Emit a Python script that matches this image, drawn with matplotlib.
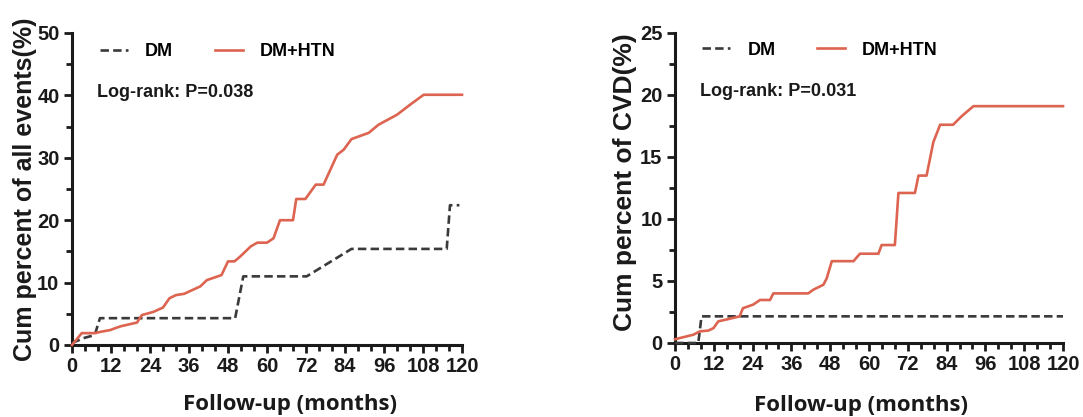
import matplotlib
matplotlib.use("Agg")
import matplotlib.pyplot as plt
from matplotlib.ticker import MultipleLocator

plt.rcParams["font.family"] = ["Liberation Sans", "DejaVu Sans"]
plt.rcParams["font.weight"] = "bold"

# cumulative incidence curves (months, percent)
all_dm_x = [0, 3.5, 7, 8.6, 50.2, 52.7, 72.2, 86, 115.3, 116.3, 119.2]
all_dm_y = [0.3, 1.1, 1.6, 4.3, 4.3, 11.0, 11.0, 15.4, 15.4, 22.4, 22.4]

all_htn_x = [0, 3, 7, 8.7, 11.8, 13.3, 15, 20, 21.5, 25, 28, 30, 32, 34.5, 39.5,
             41.5, 46, 48, 50, 51.8, 55, 57, 60, 62, 64, 68, 69, 71.8, 75, 77.4,
             81.6, 83.6, 86, 91.3, 94.3, 100, 104, 108.2, 120]
all_htn_y = [0, 1.9, 1.9, 2.1, 2.4, 2.7, 3.0, 3.6, 4.8, 5.3, 6.0, 7.5, 8.0, 8.2, 9.4,
             10.4, 11.2, 13.4, 13.4, 14.2, 15.8, 16.4, 16.4, 17.1, 20.0, 20.0, 23.4,
             23.4, 25.7, 25.7, 30.5, 31.3, 33.0, 34.0, 35.3, 36.9, 38.5, 40.1, 40.1]

cvd_dm_x = [0, 7.2, 8.2, 120]
cvd_dm_y = [0, 0, 2.15, 2.15]

cvd_htn_x = [0, 1.5, 5.7, 7.7, 10.3, 11.9, 13.4, 16, 20, 21, 24.2, 26.3, 29.4, 30.4,
             41.2, 42.8, 45.9, 46.9, 48.5, 55.2, 57.2, 62.9, 63.9, 68, 69.1, 74.2,
             75.3, 77.8, 79.9, 82, 86, 88.7, 92.3, 120]
cvd_htn_y = [0.3, 0.4, 0.67, 0.94, 1.0, 1.2, 1.75, 1.9, 2.15, 2.8, 3.1, 3.47, 3.47, 4.0,
             4.0, 4.3, 4.7, 5.2, 6.6, 6.6, 7.2, 7.2, 7.9, 7.9, 12.1, 12.1,
             13.5, 13.5, 16.2, 17.6, 17.6, 18.3, 19.1, 19.1]

panels = [
    dict(dm=(all_dm_x, all_dm_y), htn=(all_htn_x, all_htn_y), ymax=50, ymajor=10,
         ylabel="Cum percent of all events(%)", pval="Log-rank: P=0.038"),
    dict(dm=(cvd_dm_x, cvd_dm_y), htn=(cvd_htn_x, cvd_htn_y), ymax=25, ymajor=5,
         ylabel="Cum percent of CVD(%)", pval="Log-rank: P=0.031"),
]

RED = "#DC6450"
DARK = "#3a3a3a"
INK = "#1a1a1a"

fig = plt.figure(figsize=(10.83, 4.17), dpi=100)
rects = [[72 / 1083, 72 / 417, 390 / 1083, 312 / 417],
         [675 / 1083, 74 / 417, 388 / 1083, 310 / 417]]
# label / legend placement in axes fractions (left, right panel)
ylab_xy = [(-0.12, 0.50), (-0.129, 0.52)]
ylab_size = [18, 19]
xlab_xy = [(0.56, -0.192), (0.48, -0.20)]
leg_xy = [(0.072, 0.94), (0.07, 0.945)]

for i, (rect, p) in enumerate(zip(rects, panels)):
    ax = fig.add_axes(rect)
    ax.plot(*p["dm"], color=DARK, lw=1.9, dashes=(3.2, 1.6), label="DM",
            zorder=3, clip_on=False)
    ax.plot(*p["htn"], color=RED, lw=1.9, label="DM+HTN", zorder=4, clip_on=False)

    ax.set_xlim(0, 120)
    ax.set_ylim(0, p["ymax"])
    ax.xaxis.set_major_locator(MultipleLocator(12))
    ax.xaxis.set_minor_locator(MultipleLocator(4))
    ax.yaxis.set_major_locator(MultipleLocator(p["ymajor"]))
    ax.yaxis.set_minor_locator(MultipleLocator(p["ymajor"] / 2))

    for side in ("top", "right"):
        ax.spines[side].set_visible(False)
    for side in ("left", "bottom"):
        ax.spines[side].set_linewidth(2.2)
        ax.spines[side].set_color(INK)
    ax.tick_params(which="major", length=6, width=2, color=INK, pad=3,
                   labelsize=14.5, labelcolor=INK, labelfontfamily="Liberation Sans")
    ax.tick_params(which="minor", length=4, width=2, color=INK)

    ax.set_xlabel("Follow-up (months)", fontsize=16, family="Open Sans",
                  fontweight="bold", color=INK, va="center")
    ax.xaxis.set_label_coords(*xlab_xy[i])
    ax.set_ylabel(p["ylabel"], fontsize=ylab_size[i], fontweight="bold",
                  color=INK, va="center")
    ax.yaxis.set_label_coords(*ylab_xy[i])

    ax.legend(loc="center left", bbox_to_anchor=leg_xy[i], ncol=2,
              frameon=False, borderpad=0, borderaxespad=0,
              handlelength=1.55, columnspacing=2.3, handletextpad=0.95,
              prop=dict(weight="bold", size=13))
    ax.text(0.064, 0.81, p["pval"], transform=ax.transAxes, ha="left", va="center",
            fontweight="bold", fontsize=13, color=INK)

fig.savefig("out.png", dpi=100, facecolor="white")
